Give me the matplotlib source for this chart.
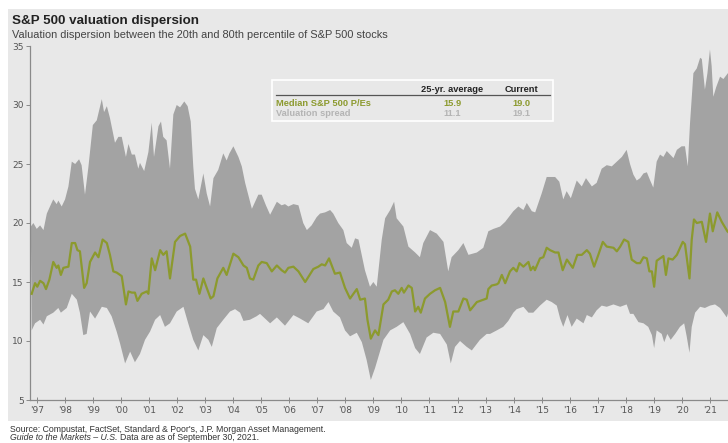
import matplotlib
matplotlib.use("Agg")
import matplotlib.pyplot as plt
import numpy as np
from matplotlib.patches import Rectangle

# data (decimal years, P/E)
# --------------------------------------------
up_t = [1996.79, 1996.88, 1997.00, 1997.12, 1997.24, 1997.36, 1997.53, 1997.59, 1997.71, 1997.77,
        1997.89, 1998.01, 1998.13, 1998.25, 1998.37, 1998.51, 1998.60, 1998.72, 1998.84, 1999.00,
        1999.14, 1999.32, 1999.40, 1999.50, 1999.61, 1999.79, 1999.91, 2000.03, 2000.18, 2000.27,
        2000.39, 2000.50, 2000.62, 2000.68, 2000.83, 2000.98, 2001.10, 2001.18, 2001.34, 2001.43,
        2001.51, 2001.63, 2001.75, 2001.87, 2001.99, 2002.11, 2002.26, 2002.38, 2002.49, 2002.58,
        2002.64, 2002.76, 2002.94, 2003.06, 2003.18, 2003.30, 2003.47, 2003.65, 2003.77, 2003.87,
        2004.01, 2004.19, 2004.31, 2004.43, 2004.67, 2004.90, 2005.02, 2005.17, 2005.32, 2005.56,
        2005.73, 2005.85, 2005.97, 2006.15, 2006.33, 2006.50, 2006.63, 2006.80, 2006.98, 2007.10,
        2007.28, 2007.46, 2007.57, 2007.75, 2007.93, 2008.05, 2008.23, 2008.35, 2008.47, 2008.70,
        2008.88, 2009.00, 2009.12, 2009.30, 2009.42, 2009.60, 2009.74, 2009.83, 2010.07, 2010.25,
        2010.49, 2010.66, 2010.78, 2011.02, 2011.26, 2011.50, 2011.67, 2011.79, 2012.03, 2012.21,
        2012.39, 2012.69, 2012.92, 2013.10, 2013.28, 2013.52, 2013.70, 2013.99, 2014.17, 2014.35,
        2014.47, 2014.65, 2014.77, 2015.00, 2015.18, 2015.36, 2015.48, 2015.63, 2015.77, 2015.89,
        2016.04, 2016.25, 2016.43, 2016.58, 2016.79, 2016.96, 2017.14, 2017.32, 2017.50, 2017.68,
        2017.86, 2018.03, 2018.15, 2018.27, 2018.39, 2018.51, 2018.63, 2018.75, 2018.87, 2018.98,
        2019.10, 2019.22, 2019.34, 2019.46, 2019.58, 2019.70, 2019.82, 2019.99, 2020.11, 2020.21,
        2020.29, 2020.41, 2020.53, 2020.65, 2020.71, 2020.82, 2020.91, 2021.00, 2021.06, 2021.12,
        2021.22, 2021.36, 2021.48, 2021.64, 2021.75]
up_v = [19.7, 20.0, 19.5, 19.8, 19.4, 20.8, 21.7, 22.0, 21.6, 21.9,
        21.4, 22.0, 23.1, 25.2, 25.0, 25.4, 24.9, 22.4, 24.7, 28.3,
        28.7, 30.5, 29.4, 29.9, 28.9, 26.8, 27.3, 27.3, 25.6, 26.7,
        25.8, 25.8, 24.6, 25.1, 24.4, 26.0, 28.5, 25.6, 28.2, 28.6,
        27.3, 27.0, 24.6, 29.2, 30.0, 29.8, 30.3, 29.9, 28.6, 24.8,
        22.9, 22.0, 24.2, 22.5, 21.4, 23.8, 24.5, 25.9, 25.3, 25.9,
        26.5, 25.6, 24.8, 23.4, 21.2, 22.4, 22.4, 21.5, 20.7, 21.8,
        21.5, 21.6, 21.4, 21.6, 21.5, 20.0, 19.4, 19.8, 20.5, 20.8,
        20.9, 21.1, 20.8, 20.0, 19.4, 18.3, 17.9, 18.7, 18.6, 16.0,
        14.6, 15.0, 14.6, 18.6, 20.4, 21.1, 21.8, 20.4, 19.7, 18.0,
        17.5, 17.1, 18.3, 19.4, 19.1, 18.4, 15.9, 17.1, 17.7, 18.3,
        17.3, 17.5, 17.9, 19.3, 19.5, 19.7, 20.1, 21.0, 21.4, 21.1,
        21.7, 21.0, 20.9, 22.5, 23.9, 23.9, 23.9, 23.5, 22.0, 22.7,
        22.1, 23.6, 23.1, 23.8, 23.1, 23.4, 24.6, 24.9, 24.8, 25.2,
        25.6, 26.2, 25.0, 24.1, 23.6, 23.8, 24.2, 24.3, 23.6, 23.0,
        25.2, 25.8, 25.6, 26.1, 25.8, 25.5, 26.2, 26.5, 26.5, 24.8,
        28.5, 32.7, 33.1, 34.0, 33.9, 31.3, 32.7, 34.7, 33.3, 30.7,
        31.5, 32.4, 32.2, 32.7, 32.3]

lo_t = [1996.82, 1996.94, 1997.12, 1997.24, 1997.36, 1997.59, 1997.77, 1997.86, 1998.07, 1998.25,
        1998.43, 1998.54, 1998.66, 1998.78, 1998.90, 1999.08, 1999.32, 1999.50, 1999.67, 1999.85,
        1999.97, 2000.15, 2000.33, 2000.50, 2000.68, 2000.86, 2001.04, 2001.22, 2001.40, 2001.57,
        2001.75, 2001.99, 2002.23, 2002.40, 2002.58, 2002.76, 2002.94, 2003.12, 2003.24, 2003.42,
        2003.65, 2003.89, 2004.07, 2004.25, 2004.37, 2004.60, 2004.84, 2004.96, 2005.32, 2005.56,
        2005.85, 2006.15, 2006.39, 2006.68, 2006.98, 2007.22, 2007.40, 2007.57, 2007.81, 2007.99,
        2008.17, 2008.41, 2008.59, 2008.76, 2008.91, 2009.06, 2009.21, 2009.36, 2009.60, 2009.83,
        2010.07, 2010.31, 2010.49, 2010.66, 2010.90, 2011.14, 2011.38, 2011.62, 2011.76, 2011.91,
        2012.09, 2012.33, 2012.51, 2012.80, 2013.04, 2013.16, 2013.40, 2013.63, 2013.81, 2013.99,
        2014.11, 2014.35, 2014.53, 2014.70, 2014.94, 2015.18, 2015.36, 2015.54, 2015.66, 2015.77,
        2015.92, 2016.07, 2016.25, 2016.49, 2016.61, 2016.79, 2016.96, 2017.14, 2017.32, 2017.56,
        2017.80, 2018.03, 2018.15, 2018.27, 2018.45, 2018.63, 2018.80, 2018.93, 2019.01, 2019.10,
        2019.28, 2019.37, 2019.48, 2019.60, 2019.76, 2019.93, 2020.08, 2020.17, 2020.27, 2020.35,
        2020.47, 2020.65, 2020.82, 2021.00, 2021.18, 2021.36, 2021.60, 2021.75]
lo_v = [10.9, 11.5, 11.8, 11.4, 12.1, 12.4, 12.8, 12.4, 12.8, 14.0,
        13.5, 12.4, 10.5, 10.6, 12.5, 11.9, 12.9, 12.8, 12.1, 10.8,
        9.8, 8.1, 9.1, 8.2, 8.9, 10.1, 10.8, 11.8, 12.2, 11.2,
        11.5, 12.5, 12.9, 11.5, 10.1, 9.2, 10.5, 10.1, 9.5, 11.1,
        11.8, 12.5, 12.7, 12.4, 11.7, 11.8, 12.1, 12.3, 11.5, 12.0,
        11.3, 12.2, 11.9, 11.5, 12.5, 12.7, 13.3, 12.5, 12.0, 10.9,
        10.4, 10.7, 9.9, 8.4, 6.7, 7.7, 8.9, 10.1, 10.9, 11.2,
        11.6, 10.6, 9.4, 8.9, 10.3, 10.7, 10.6, 9.7, 8.1, 9.5,
        10.0, 9.5, 9.2, 10.1, 10.6, 10.6, 10.9, 11.2, 11.7, 12.4,
        12.7, 12.9, 12.4, 12.4, 13.0, 13.5, 13.3, 13.0, 11.9, 11.2,
        12.2, 11.2, 11.9, 11.5, 12.2, 12.0, 12.6, 13.0, 12.9, 13.1,
        12.9, 13.1, 12.3, 12.3, 11.6, 11.5, 11.2, 10.5, 9.4, 10.9,
        10.6, 9.9, 10.6, 10.1, 10.6, 11.2, 11.5, 10.4, 9.0, 11.2,
        12.4, 12.9, 12.8, 13.0, 13.1, 12.8, 12.0, 13.2]

med_t = [1996.82, 1996.94, 1997.02, 1997.12, 1997.24, 1997.33, 1997.45, 1997.59, 1997.71, 1997.77,
         1997.86, 1997.95, 1998.13, 1998.25, 1998.37, 1998.45, 1998.54, 1998.69, 1998.78, 1998.90,
         1999.08, 1999.20, 1999.35, 1999.50, 1999.61, 1999.73, 1999.85, 2000.03, 2000.18, 2000.27,
         2000.39, 2000.50, 2000.59, 2000.74, 2000.92, 2000.98, 2001.10, 2001.22, 2001.40, 2001.51,
         2001.63, 2001.75, 2001.93, 2002.11, 2002.29, 2002.47, 2002.58, 2002.68, 2002.80, 2002.94,
         2003.06, 2003.20, 2003.30, 2003.44, 2003.65, 2003.77, 2004.01, 2004.19, 2004.37, 2004.49,
         2004.60, 2004.72, 2004.90, 2005.02, 2005.20, 2005.38, 2005.56, 2005.73, 2005.85, 2005.97,
         2006.15, 2006.33, 2006.57, 2006.86, 2007.04, 2007.16, 2007.28, 2007.42, 2007.63, 2007.81,
         2007.99, 2008.17, 2008.41, 2008.53, 2008.70, 2008.79, 2008.91, 2009.06, 2009.18, 2009.36,
         2009.53, 2009.66, 2009.77, 2009.89, 2010.01, 2010.09, 2010.25, 2010.37, 2010.49, 2010.60,
         2010.69, 2010.84, 2011.02, 2011.20, 2011.38, 2011.56, 2011.73, 2011.85, 2012.03, 2012.21,
         2012.33, 2012.45, 2012.69, 2012.92, 2013.04, 2013.10, 2013.22, 2013.40, 2013.46, 2013.58,
         2013.70, 2013.87, 2013.99, 2014.11, 2014.21, 2014.35, 2014.53, 2014.61, 2014.70, 2014.76,
         2014.94, 2015.06, 2015.18, 2015.30, 2015.48, 2015.60, 2015.75, 2015.90, 2016.11, 2016.27,
         2016.43, 2016.61, 2016.72, 2016.87, 2017.02, 2017.18, 2017.32, 2017.56, 2017.68, 2017.80,
         2017.94, 2018.09, 2018.21, 2018.39, 2018.51, 2018.63, 2018.75, 2018.84, 2018.93, 2019.01,
         2019.10, 2019.22, 2019.34, 2019.43, 2019.52, 2019.67, 2019.82, 2020.03, 2020.11, 2020.27,
         2020.35, 2020.43, 2020.53, 2020.71, 2020.86, 2021.00, 2021.10, 2021.26, 2021.42, 2021.62,
         2021.75]
med_v = [14.0, 14.9, 14.6, 15.1, 14.9, 14.4, 15.2, 16.7, 16.2, 16.4,
         15.6, 16.2, 16.3, 18.3, 18.3, 17.7, 17.6, 14.5, 14.9, 16.7,
         17.5, 17.1, 18.6, 18.3, 17.3, 15.9, 15.8, 15.5, 13.1, 14.2,
         14.1, 14.1, 13.4, 14.0, 14.2, 14.0, 17.0, 16.0, 17.7, 17.3,
         17.6, 15.3, 18.4, 18.9, 19.1, 18.0, 15.2, 15.2, 14.0, 15.3,
         14.5, 13.6, 13.8, 15.3, 16.2, 15.6, 17.4, 17.1, 16.4, 16.2,
         15.3, 15.2, 16.4, 16.7, 16.6, 15.9, 16.4, 16.0, 15.8, 16.2,
         16.3, 15.9, 15.0, 16.1, 16.3, 16.5, 16.4, 17.0, 15.7, 15.8,
         14.5, 13.6, 14.4, 13.5, 13.6, 11.8, 10.2, 10.9, 10.5, 13.1,
         13.5, 14.2, 14.3, 14.0, 14.5, 14.1, 14.7, 14.5, 12.5, 12.9,
         12.4, 13.6, 14.0, 14.3, 14.5, 13.3, 11.2, 12.5, 12.5, 13.6,
         13.5, 12.6, 13.3, 13.5, 13.6, 14.4, 14.7, 14.8, 14.9, 15.6,
         14.9, 15.9, 16.2, 15.9, 16.6, 16.3, 16.7, 16.0, 16.3, 16.0,
         17.0, 17.1, 17.9, 17.7, 17.5, 17.5, 16.0, 16.9, 16.2, 17.3,
         17.3, 17.7, 17.4, 16.3, 17.3, 18.4, 18.0, 17.9, 17.6, 18.0,
         18.6, 18.4, 16.9, 16.6, 16.6, 17.1, 17.0, 15.9, 15.9, 14.6,
         16.8, 17.0, 17.2, 15.6, 17.0, 16.9, 17.3, 18.4, 18.2, 15.3,
         18.6, 20.3, 20.0, 20.1, 18.4, 20.8, 19.3, 20.9, 20.1, 19.3,
         19.0]

years = list(range(1997, 2022))
year_labels = ["'" + str(y)[2:] for y in years]

table_rows = ["Median S&P 500 P/Es", "Valuation spread"]
table_avg = ["15.9", "11.1"]
table_cur = ["19.0", "19.1"]

# colours
panel_c = "#e8e8e8"
band_c = "#a3a3a3"
olive = "#8c9a2e"
spread_c = "#b4b4b4"

fig = plt.figure(figsize=(7.28, 4.43), dpi=100)
fig.patch.set_facecolor("white")
fig.patches.append(Rectangle((8 / 728, 1 - 421 / 443), 1, (421 - 9) / 443,
                             transform=fig.transFigure, facecolor=panel_c,
                             edgecolor="none", zorder=-10))

ax = fig.add_axes([30 / 728, 1 - 400 / 443, 701 / 728, 354 / 443])
ax.set_facecolor("none")

# band: upper edge forward, lower edge backward
ax.fill(np.concatenate([up_t, lo_t[::-1]]), np.concatenate([up_v, lo_v[::-1]]),
        color=band_c, lw=0, zorder=1)
ax.plot(med_t, med_v, color=olive, lw=1.6, zorder=3)

ax.set_xlim(1996.76, 2021.75)
ax.set_ylim(5, 35)
ax.set_yticks(range(5, 36, 5))
ax.set_xticks(years)
ax.set_xticklabels(year_labels)
for s in ["top", "right"]:
    ax.spines[s].set_visible(False)
for s in ["left", "bottom"]:
    ax.spines[s].set_color("#8a8a8a")
    ax.spines[s].set_linewidth(0.9)
ax.tick_params(axis="y", colors="#555555", labelsize=6.5, length=3, width=0.7,
               color="#8a8a8a", pad=1.5)
ax.tick_params(axis="x", colors="#555555", labelsize=6.5, length=4, width=0.7,
               color="#8a8a8a", direction="inout", pad=2)

# titles
fig.text(12 / 728, 1 - 24 / 443, "S&P 500 valuation dispersion", fontsize=9.6,
         fontweight="bold", color="#222222", family="Liberation Sans")
fig.text(12 / 728, 1 - 38 / 443,
         "Valuation dispersion between the 20th and 80th percentile of S&P 500 stocks",
         fontsize=7.9, color="#444444", family="Liberation Sans")

# summary table
fig.patches.append(Rectangle((272 / 728, 1 - 121 / 443), (553 - 272) / 728, 41 / 443,
                             transform=fig.transFigure, facecolor=panel_c,
                             edgecolor="white", lw=1.2, zorder=5))
fig.lines.append(plt.Line2D([276 / 728, 550 / 728], [1 - 95 / 443, 1 - 95 / 443],
                            transform=fig.transFigure, color="#555555", lw=0.9, zorder=6))
tkw = dict(fontsize=6.7, fontweight="bold", family="Liberation Sans", zorder=7)
fig.text(452 / 728, 1 - 92 / 443, "25-yr. average", ha="center", color="#222222", **tkw)
fig.text(521 / 728, 1 - 92 / 443, "Current", ha="center", color="#222222", **tkw)
row_y = [106, 116]
row_c = [olive, spread_c]
for name, a, c, yy, col in zip(table_rows, table_avg, table_cur, row_y, row_c):
    fig.text(276 / 728, 1 - yy / 443, name, ha="left", color=col, **tkw)
    fig.text(452 / 728, 1 - yy / 443, a, ha="center", color=col, **tkw)
    fig.text(521 / 728, 1 - yy / 443, c, ha="center", color=col, **tkw)

# source notes
fig.text(10 / 728, 1 - 432 / 443,
         "Source: Compustat, FactSet, Standard & Poor's, J.P. Morgan Asset Management.",
         fontsize=6.3, color="#333333", family="Liberation Sans")
t1 = fig.text(10 / 728, 1 - 440 / 443, "Guide to the Markets – U.S.", fontsize=6.3,
              style="italic", color="#333333", family="Liberation Sans")
fig.canvas.draw()
bb = t1.get_window_extent()
fig.text((bb.x1 + 2) / 728, 1 - 440 / 443, "Data are as of September 30, 2021.",
         fontsize=6.3, color="#333333", family="Liberation Sans")

fig.savefig("out.png", dpi=100)
